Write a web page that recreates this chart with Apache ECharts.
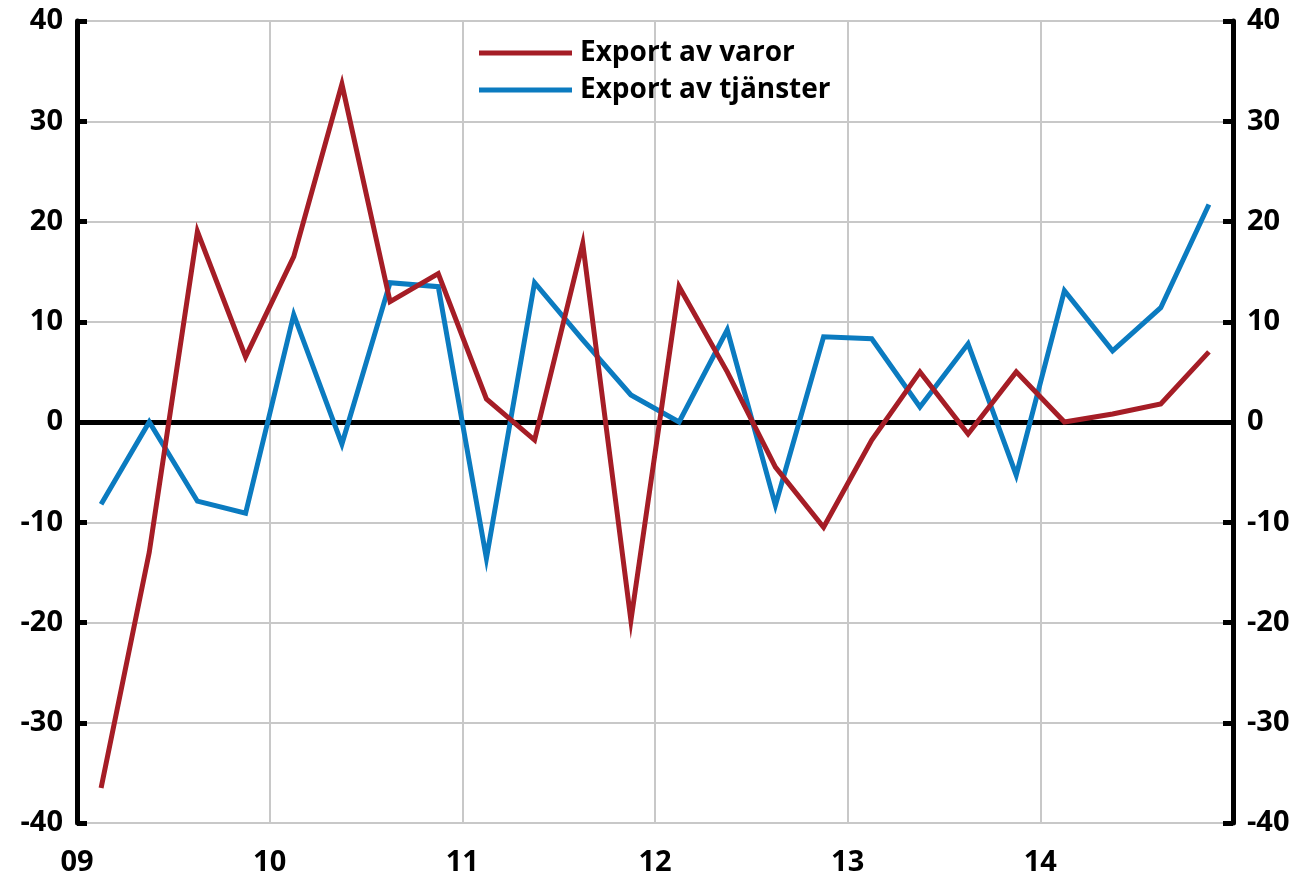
<!DOCTYPE html>
<html>
<head>
<meta charset="utf-8">
<script src="https://cdn.jsdelivr.net/npm/echarts@6/dist/echarts.min.js"></script>
<style>
html, body { margin: 0; padding: 0; background: #fff; }
#chart { width: 1297px; height: 877px; }
</style>
</head>
<body>
<div id="chart"></div>
<script>
// kvartal 2009Q1 - 2014Q4
var quarters = ['09K1','09K2','09K3','09K4','10K1','10K2','10K3','10K4',
	'11K1','11K2','11K3','11K4','12K1','12K2','12K3','12K4',
	'13K1','13K2','13K3','13K4','14K1','14K2','14K3','14K4'];
var yearLabels = ['09','10','11','12','13','14','15'];
var yTicks = [-40,-30,-20,-10,0,10,20,30,40];

var varor = [-36.5,-13,19,6.5,16.5,33.7,12,14.8,
	2.3,-1.8,17.8,-19.8,13.5,5,-4.5,-10.5,
	-1.8,5,-1.2,5,0,0.8,1.8,7];
var tjanster = [-8.2,0,-7.9,-9.1,10.7,-2.2,13.9,13.5,
	-13.6,13.9,8.2,2.7,0,9.2,-8.3,8.5,
	8.3,1.5,7.8,-5.3,13.1,7.1,11.4,21.7];

function toPoints(arr) {
	var out = [];
	for (var i = 0; i < arr.length; i++) {
		out.push([i + 0.5, arr[i]]);
	}
	return out;
}

var chart = echarts.init(document.getElementById('chart'));

function yAxisDef(pos) {
	return {
		type : 'value',
		position : pos,
		min : yTicks[0],
		max : yTicks[yTicks.length - 1],
		interval : 10,
		axisLine : { show : true, lineStyle : { color : '#000', width : 5 } },
		axisTick : { show : true, inside : true, length : 10, lineStyle : { color : '#000', width : 5 } },
		axisLabel : {
			margin : 14,
			color : '#000',
			fontFamily : 'Open Sans',
			fontWeight : 'bold',
			fontSize : 29
		},
		splitLine : { show : pos == 'left', lineStyle : { color : '#c8c8c8', width : 2 } }
	};
}

var option = {
	animation : false,
	backgroundColor : '#fff',
	grid : {
		left : 77,
		right : 64,
		top : 21,
		bottom : 52
	},
	legend : {
		orient : 'vertical',
		left : 474,
		top : 34,
		itemWidth : 93,
		itemHeight : 5,
		itemGap : 9,
		icon : 'rect',
		textStyle : {
			padding : [0, 0, 0, 3],
			color : '#000',
			fontFamily : 'Open Sans',
			fontWeight : 'bold',
			fontSize : 28
		},
		data : [
			{ name : 'Export av varor', itemStyle : { color : '#a51d26' } },
			{ name : 'Export av tjänster', itemStyle : { color : '#0b7bc0' } }
		]
	},
	xAxis : {
		type : 'value',
		min : 0,
		max : quarters.length,
		interval : 4,
		axisLine : { show : false },
		axisTick : { show : false },
		axisLabel : {
			margin : 25,
			showMaxLabel : false,
			color : '#000',
			fontFamily : 'Open Sans',
			fontWeight : 'bold',
			fontSize : 29,
			formatter : function(v) { return yearLabels[v / 4]; }
		},
		splitLine : { show : true, lineStyle : { color : '#c8c8c8', width : 2 } }
	},
	yAxis : [ yAxisDef('left'), yAxisDef('right') ],
	series : [
		{
			name : 'Export av varor',
			type : 'line',
			data : toPoints(varor),
			showSymbol : false,
			symbol : 'none',
			z : 4,
			lineStyle : { color : '#a51d26', width : 5, join : 'miter', miterLimit : 20 },
			itemStyle : { color : '#a51d26' },
			markLine : {
				silent : true,
				symbol : 'none',
				label : { show : false },
				lineStyle : { color : '#000', width : 5, type : 'solid' },
				data : [ { yAxis : 0 } ],
				z : 3
			}
		},
		{
			name : 'Export av tjänster',
			type : 'line',
			data : toPoints(tjanster),
			showSymbol : false,
			symbol : 'none',
			z : 3,
			lineStyle : { color : '#0b7bc0', width : 5, join : 'miter', miterLimit : 20 },
			itemStyle : { color : '#0b7bc0' }
		}
	]
};

chart.setOption(option);
</script>
</body>
</html>
